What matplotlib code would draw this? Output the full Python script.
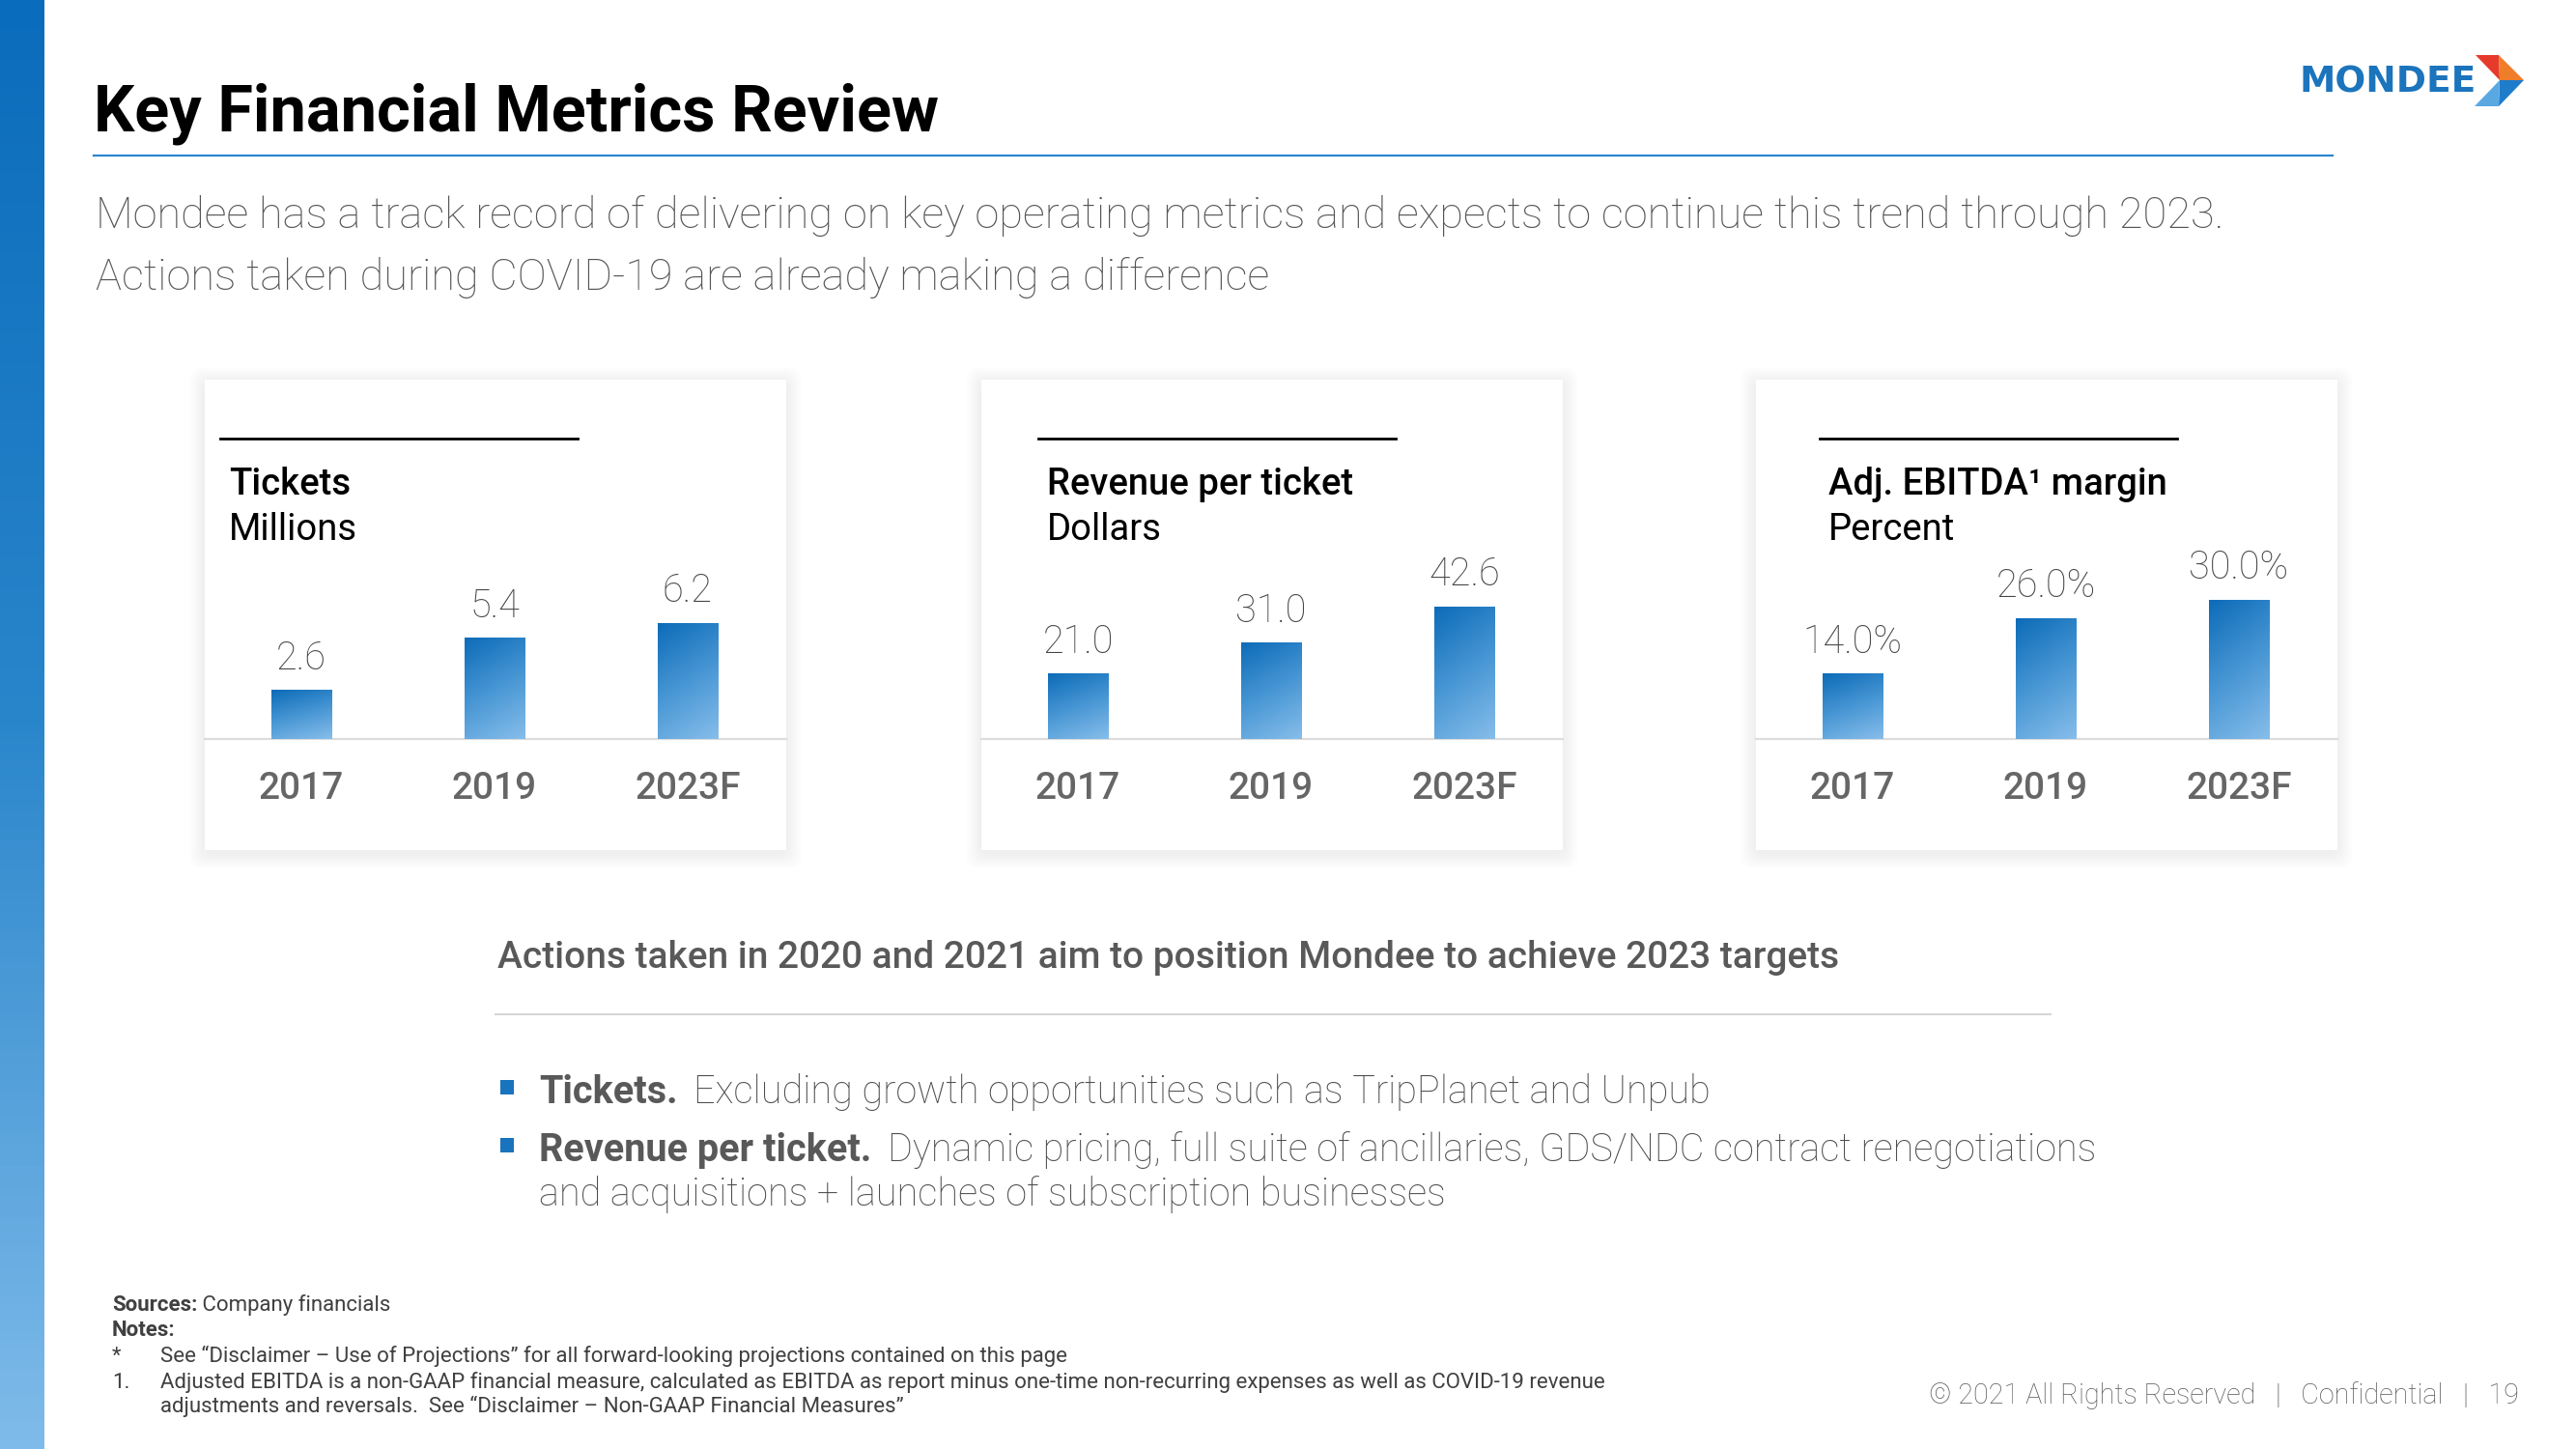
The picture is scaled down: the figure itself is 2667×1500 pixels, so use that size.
import numpy as np
import matplotlib.pyplot as plt
from matplotlib.colors import LinearSegmentedColormap
from matplotlib.patches import Rectangle, FancyBboxPatch, Polygon

plt.rcParams['font.family'] = ['Roboto', 'DejaVu Sans']

# data
years = ['2017', '2019', '2023F']
tickets = [2.6, 5.4, 6.2]
rev_per_ticket = [21.0, 31.0, 42.6]
ebitda_margin = [14.0, 26.0, 30.0]
panel_titles = ['Tickets', 'Revenue per ticket', 'Adj. EBITDA\u00b9 margin']
panel_units = ['Millions', 'Dollars', 'Percent']
value_fmt = ['{:.1f}', '{:.1f}', '{:.1f}%']

W, H = 2667, 1500
fig = plt.figure(figsize=(W / 100, H / 100), dpi=100)
fig.patch.set_facecolor('white')

bg = fig.add_axes([0, 0, 1, 1])
bg.set_xlim(0, W)
bg.set_ylim(H, 0)
bg.axis('off')

# left blue strip
strip_cm = LinearSegmentedColormap.from_list('strip', ['#0a6cbc', '#2a86cb', '#7fbbea'])
bg.imshow(np.linspace(0, 1, 200).reshape(-1, 1), cmap=strip_cm, extent=(0, 46, H, 0),
          aspect='auto', zorder=1)
bg.set_xlim(0, W)
bg.set_ylim(H, 0)

# title
bg.text(97, 136, 'Key Financial Metrics Review', fontsize=48, fontweight='bold',
        color='black', va='baseline')
bg.plot([97, 2415], [161, 161], color='#2b86cd', lw=1.6)

# logo
bg.text(2381, 96, 'MONDEE', fontsize=27, fontweight='bold', color='#1b74bc',
        va='baseline', family='DejaVu Sans')
bg.add_patch(Polygon([(2563, 57), (2587, 57), (2588, 83)], color='#e63a2c', lw=0))
bg.add_patch(Polygon([(2587, 57), (2613, 83), (2588, 83)], color='#ef7d2a', lw=0))
bg.add_patch(Polygon([(2588, 83), (2613, 83), (2587, 110)], color='#1e7ccb', lw=0))
bg.add_patch(Polygon([(2588, 83), (2587, 110), (2562, 110)], color='#5aa8e2', lw=0))

# subtitle
sub_kw = dict(fontsize=32.5, fontweight='light', color='#555555', va='baseline')
bg.text(99, 236, 'Mondee has a track record of delivering on key operating metrics and '
        'expects to continue this trend through 2023.', **sub_kw)
bg.text(99, 300, 'Actions taken during COVID-19 are already making a difference', **sub_kw)

# panels
panel_left = [212, 1016, 1818]
panel_w = 602
title_x = [237, 1084, 1893]
line_x = [228, 1075, 1884]
ytops = [200 / 19.3, 200 / 3.2, 200 / 4.8]
series = [tickets, rev_per_ticket, ebitda_margin]

bar_cm = LinearSegmentedColormap.from_list('bar', ['#0d6cb8', '#4796d4', '#86bdea'])
yy, xx = np.mgrid[0:1:120j, 0:1:30j]
grad = 0.75 * yy + 0.25 * xx

for i in range(3):
    L = panel_left[i]
    # soft shadow + card
    for k in range(16, 0, -1):
        bg.add_patch(FancyBboxPatch((L - k, 393 - k + 3), panel_w + 2 * k, 487 + 2 * k,
                                    boxstyle='round,pad=0,rounding_size=12',
                                    fc='black', ec='none', alpha=0.004, zorder=2))
    bg.add_patch(Rectangle((L, 393), panel_w, 487, fc='white', ec='none', zorder=3))
    bg.plot([line_x[i], line_x[i] + 370], [454, 454], color='black', lw=2, zorder=4)
    bg.text(title_x[i], 512, panel_titles[i], fontsize=27.5, fontweight='medium',
            color='black', va='baseline', zorder=4)
    bg.text(title_x[i], 559, panel_units[i], fontsize=27.5, color='black',
            va='baseline', zorder=4)

    ax = fig.add_axes([L / W, 1 - 765 / H, panel_w / W, 200 / H])
    ax.set_facecolor('none')
    vals = series[i]
    bars = ax.bar(range(3), vals, width=0.315, color='#3a8acb', lw=0, zorder=2)
    for b, v in zip(bars, vals):
        x0, w, h = b.get_x(), b.get_width(), b.get_height()
        ax.imshow(grad, cmap=bar_cm, extent=(x0, x0 + w, 0, h), origin='upper',
                  aspect='auto', zorder=3, interpolation='bilinear')
        ax.annotate(value_fmt[i].format(v), (b.get_x() + w / 2, h), xytext=(0, 16),
                    textcoords='offset points', ha='center', va='baseline',
                    fontsize=28.5, fontweight='light', color='#444444')
    ax.set_xlim(-0.5, 2.51)
    ax.set_ylim(0, ytops[i])
    ax.set_xticks(range(3), years)
    ax.tick_params(axis='x', length=0, pad=24, labelsize=28, labelcolor='#666666')
    for lab in ax.get_xticklabels():
        lab.set_fontweight('medium')
    ax.set_yticks([])
    for s in ['top', 'left', 'right']:
        ax.spines[s].set_visible(False)
    ax.spines['bottom'].set_color('#dcdcdc')
    ax.spines['bottom'].set_linewidth(1.6)

# actions section
bg.text(515, 1002, 'Actions taken in 2020 and 2021 aim to position Mondee to achieve 2023 targets',
        fontsize=28, fontweight='medium', color='#595959', va='baseline')
bg.plot([513, 2123], [1050, 1050], color='#d6d6d6', lw=1.5)

bullets = [('Tickets.', 'Excluding growth opportunities such as TripPlanet and Unpub', 1142),
           ('Revenue per ticket.', 'Dynamic pricing, full suite of ancillaries, GDS/NDC '
            'contract renegotiations', 1202)]
for head, body, yb in bullets:
    bg.add_patch(Rectangle((518, yb - 24), 14, 15, color='#1a73bd', lw=0))
    t1 = bg.text(558, yb, head, fontsize=28.5, fontweight='bold', color='#595959', va='baseline')
    bg.annotate(body, xy=(1, 0), xycoords=t1, xytext=(12, 0), textcoords='offset points',
                fontsize=28.5, fontweight='light', color='#4e4e4e', va='bottom')
bg.text(558, 1248, 'and acquisitions + launches of subscription businesses', fontsize=28.5,
        fontweight='light', color='#4e4e4e', va='baseline')

# notes
note_kw = dict(fontsize=16, color='#404040')
s1 = bg.text(116, 1357, 'Sources:', fontweight='bold', va='baseline', **note_kw)
bg.annotate(' Company financials', xy=(1, 0), xycoords=s1, va='bottom', **note_kw)
bg.text(116, 1383, 'Notes:', fontweight='bold', va='baseline', **note_kw)
bg.text(116, 1410, '*', va='baseline', **note_kw)
bg.text(166, 1410, 'See \u201cDisclaimer \u2013 Use of Projections\u201d for all forward-looking '
        'projections contained on this page', va='baseline', **note_kw)
bg.text(116, 1437, '1.', va='baseline', **note_kw)
bg.text(166, 1437, 'Adjusted EBITDA is a non-GAAP financial measure, calculated as EBITDA as '
        'report minus one-time non-recurring expenses as well as COVID-19 revenue',
        va='baseline', **note_kw)
bg.text(166, 1462, 'adjustments and reversals.  See \u201cDisclaimer \u2013 Non-GAAP Financial '
        'Measures\u201d', va='baseline', **note_kw)

# footer
bg.text(2608, 1453, '\u00a9 2021 All Rights Reserved   |   Confidential   |   19', fontsize=20.7,
        fontweight='light', color='#5e5e5e', ha='right', va='baseline')

fig.savefig('out.png', dpi=100)
